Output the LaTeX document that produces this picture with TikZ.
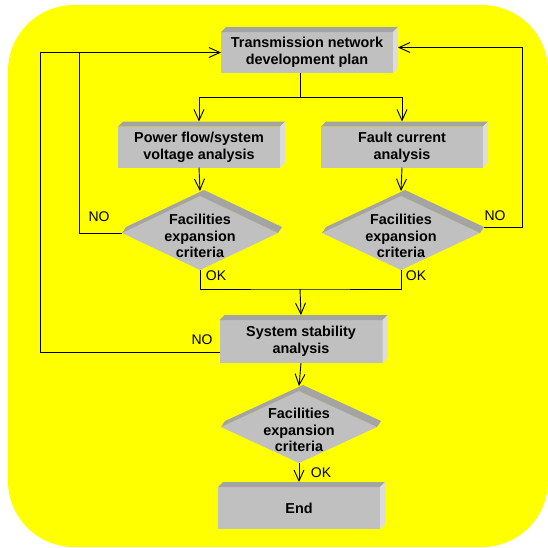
\documentclass[tikz,border=0pt]{standalone}
\usepackage{fontspec}
\setmainfont{Liberation Sans}
\usetikzlibrary{arrows.meta,calc,shapes.geometric}

\definecolor{bgyellow}{HTML}{FFFF00}
\definecolor{facegray}{HTML}{C0C0C0}
\definecolor{topgray}{HTML}{A4A4A4}
\definecolor{sidegray}{HTML}{DCDCDC}

\tikzset{
  flowbox/.style={rectangle, fill=facegray, inner sep=0pt, outer sep=0pt,
    minimum width=162pt, minimum height=41pt, align=center,
    font=\bfseries\fontsize{14.4}{16.7}\selectfont},
  decision/.style={diamond, fill=facegray, inner sep=0pt, outer sep=0pt,
    minimum width=156pt, minimum height=74pt},
  decisiontext/.style={align=center, inner sep=0pt,
    font=\bfseries\fontsize{14.4}{16.7}\selectfont},
  answer/.style={inner sep=0pt, font=\fontsize{14}{16}\selectfont},
  line/.style={draw, line width=0.9pt},
  flow/.style={line, -{Straight Barb[length=11pt,width=10pt]}},
}

% raised look of a box: darker top face, lighter right face
\newcommand\boxdepth[1]{%
  \fill[topgray] (#1.north west) -- ++(5,-5) -- ($(#1.north east)+(5,-5)$) -- (#1.north east) -- cycle;
  \fill[sidegray] (#1.north east) -- ++(5,-5) -- ($(#1.south east)+(5,-5)$) -- (#1.south east) -- cycle;
}
% raised look of a decision: band along the two upper edges
\newcommand\diamonddepth[1]{%
  \fill[topgray] (#1.west) -- ($(#1.west)+(4,-6)$) -- ($(#1.north)+(4,-6)$)
    -- ($(#1.east)+(4,-6)$) -- (#1.east) -- (#1.north) -- cycle;
}

\begin{document}
\begin{tikzpicture}[x=1pt, y=-1pt]
  \useasboundingbox (0,0) rectangle (548,547);
  \fill[white] (0,0) rectangle (548,547);
  \fill[bgyellow, rounded corners=66pt] (8,5) rectangle (548,547);

  % process boxes
  \node[flowbox, minimum width=172pt] (b1) at (307,52.5) {Transmission network\\development plan};
  \node[flowbox] (b2) at (199,147) {Power flow/system\\voltage analysis};
  \node[flowbox] (b3) at (402,147) {Fault current\\analysis};
  \node[flowbox, minimum width=163pt, minimum height=43pt] (b4) at (301,341.5) {System stability\\analysis};
  \node[flowbox, minimum height=42pt] (b5) at (299,508) {End};
  \foreach \b in {b1,b2,b3,b4,b5} {\boxdepth{\b}}

  % decisions
  \node[decision] (d1) at (200,233) {};
  \node[decision, minimum width=158pt] (d2) at (401,233) {};
  \node[decision, minimum height=72pt] (d3) at (299,427) {};
  \foreach \d in {d1,d2,d3} {\diamonddepth{\d}}
  \node[decisiontext] (d1t) at ($(d1)+(0,3)$) {Facilities\\expansion\\criteria};
  \node[decisiontext] (d2t) at ($(d2)+(0,3)$) {Facilities\\expansion\\criteria};
  \node[decisiontext] (d3t) at ($(d3)+(0,3)$) {Facilities\\expansion\\criteria};

  % routing points
  \coordinate (split) at (300,97);
  \coordinate (join) at (300,289);
  \coordinate (loopL) at (40,0);
  \coordinate (loopN) at (79,0);
  \coordinate (loopR) at (522,0);
  \coordinate (b1e) at ($(b1.east)+(5,-5)$);

  % connectors
  \draw[line] (b1.south -| split) -- (split);
  \draw[flow] (split) -| ($(b2.north)+(0,-5)$);
  \draw[flow] (split) -| ($(b3.north)+(0,-5)$);
  \draw[flow] (b2.south) -- ($(d1.north)+(0,-5)$);
  \draw[flow] (b3.south) -- ($(d2.north)+(0,-5)$);
  \draw[line] (d1.south) |- (join) -| (d2.south);
  \draw[flow] (join) -- ($(b4.north)+(0,-5)$);
  \draw[line] (d1.west) -| (b1.west -| loopN);
  \draw[flow] ($(b4.west)+(0,11)$) -| (b1.west -| loopL) -- (b1.west);
  \draw[flow] ($(d2.east)+(4,-6)$) -| (b1e -| loopR) -- (b1e);
  \draw[flow] (b4.south) -- ($(d3.north)+(0,-5)$);
  \draw[flow] (d3.south) -- ($(b5.north)+(0,-5)$);

  % branch labels
  \node[answer] (no1) at (99,217) {NO};
  \node[answer] (no2) at (495,216) {NO};
  \node[answer] (no3) at (202,340) {NO};
  \node[answer] (ok1) at (216,276) {OK};
  \node[answer] (ok2) at (416,276) {OK};
  \node[answer] (ok3) at (321,473) {OK};
\end{tikzpicture}
\end{document}
